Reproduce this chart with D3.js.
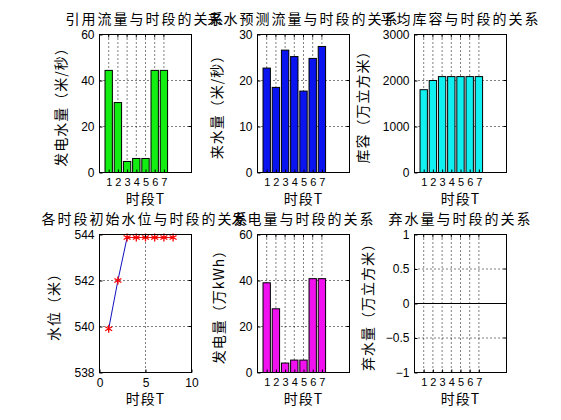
<!DOCTYPE html>
<html>
<head>
<meta charset="utf-8">
<script src="https://cdn.jsdelivr.net/npm/d3@7.9.0/dist/d3.min.js"></script>
<style>
  html, body { margin: 0; padding: 0; background: #fff; }
  svg { display: block; }
  .tick-label { font-family: "Liberation Sans", Arial, sans-serif; font-size: 12px; fill: #000; }
  .cjk { font-family: "Noto Sans CJK SC", sans-serif; fill: #000; }
</style>
</head>
<body>
<svg id="fig" width="561" height="420"></svg>
<script>
// data
const periods = [1, 2, 3, 4, 5, 6, 7];
const genFlow = [44.4, 30.4, 4.8, 6.1, 6.1, 44.4, 44.4];
const inflow = [22.7, 18.5, 26.6, 25.2, 17.7, 24.8, 27.4];
const storage = [1800, 2000, 2085, 2085, 2085, 2085, 2085];
const levelT = [1, 2, 3, 4, 5, 6, 7, 8];
const level = [539.9, 542.0, 543.87, 543.87, 543.87, 543.87, 543.87, 543.87];
const energy = [39.0, 27.7, 4.1, 5.4, 5.4, 40.8, 40.8];
const spill = [0, 0, 0, 0, 0, 0, 0];

const titles = ['引用流量与时段的关系', '来水预测流量与时段的关系', '平均库容与时段的关系',
                '各时段初始水位与时段的关系', '发电量与时段的关系', '弃水量与时段的关系'];
const yLabels = ['发电水量（米/秒）', '来水量（米/秒）', '库容（万立方米）',
                 '水位（米）', '发电量（万kWh）', '弃水量（万立方米）'];
const xLabel = '时段T';

const svg = d3.select('#fig');
const colLeft = [99.5, 257.5, 414.5];
const rowTop = [34.5, 234.5];
const W = 92, H = 138;

function panel(i, xDomain, xTicks, yDomain, yTicks, yFmt, ylabOffset, xTickSize) {
  const left = colLeft[i % 3], top = rowTop[Math.floor(i / 3)];
  const g = svg.append('g').attr('transform', `translate(${left},${top})`);
  const x = d3.scaleLinear().domain(xDomain).range([0, W]);
  const y = d3.scaleLinear().domain(yDomain).range([H, 0]);

  // dotted grid
  const grid = g.append('g').attr('stroke', '#000').attr('stroke-dasharray', '1,3');
  xTicks.filter(t => t > xDomain[0] && t < xDomain[1]).forEach(t => {
    grid.append('line').attr('x1', x(t)).attr('x2', x(t)).attr('y1', 0).attr('y2', H);
  });
  yTicks.filter(t => t > yDomain[0] && t < yDomain[1]).forEach(t => {
    grid.append('line').attr('x1', 0).attr('x2', W).attr('y1', y(t)).attr('y2', y(t));
  });

  const marks = g.append('g');

  // axes: bottom + left with labels, ticks inward
  const xAxis = d3.axisBottom(x).tickValues(xTicks).tickSize(-3).tickPadding(6).tickFormat(d3.format('d'));
  const yAxis = d3.axisLeft(y).tickValues(yTicks).tickSize(-3).tickPadding(5).tickFormat(yFmt);
  const ax = g.append('g').attr('transform', `translate(0,${H})`).call(xAxis);
  const ay = g.append('g').call(yAxis);
  [ax, ay].forEach(a => {
    a.select('.domain').remove();
    a.selectAll('text').attr('class', 'tick-label').attr('fill', '#000');
    a.selectAll('line').attr('stroke', '#000');
  });
  ax.selectAll('text').style('font-size', xTickSize + 'px');
  // ticks on top and right too
  xTicks.forEach(t => g.append('line').attr('x1', x(t)).attr('x2', x(t)).attr('y1', 0).attr('y2', 3).attr('stroke', '#000'));
  yTicks.forEach(t => g.append('line').attr('x1', W).attr('x2', W - 3).attr('y1', y(t)).attr('y2', y(t)).attr('stroke', '#000'));

  g.append('rect').attr('width', W).attr('height', H)
    .attr('fill', 'none').attr('stroke', '#000').attr('stroke-width', 1);

  g.append('text').attr('class', 'cjk')
    .attr('x', W / 2).attr('y', -11).attr('text-anchor', 'middle')
    .style('font-size', '14px').style('letter-spacing', '2px')
    .text(titles[i]);
  g.append('text').attr('class', 'cjk')
    .attr('x', W / 2).attr('y', H + 31).attr('text-anchor', 'middle')
    .style('font-size', '14px').style('letter-spacing', '1px')
    .text(xLabel);
  g.append('text').attr('class', 'cjk')
    .attr('transform', `translate(${-ylabOffset},${H / 2}) rotate(-90)`)
    .attr('text-anchor', 'middle')
    .style('font-size', '14px').style('letter-spacing', '1px')
    .text(yLabels[i]);

  return { g, marks, x, y };
}

function bars(p, values, color) {
  const bw = p.x(0.8) - p.x(0);
  p.marks.selectAll('rect').data(values).join('rect')
    .attr('x', (d, k) => p.x(periods[k]) - bw / 2)
    .attr('y', d => p.y(Math.max(0, d)))
    .attr('width', bw)
    .attr('height', d => Math.abs(p.y(d) - p.y(0)))
    .attr('fill', color).attr('stroke', '#000').attr('stroke-width', 1);
  // baseline
  p.marks.append('line').attr('x1', 0).attr('x2', W)
    .attr('y1', p.y(0)).attr('y2', p.y(0)).attr('stroke', '#000').attr('stroke-width', 1.2);
}

const fmt = d3.format('d');

const p1 = panel(0, [0, 10], periods, [0, 60], [0, 20, 40, 60], fmt, 34, 11);
bars(p1, genFlow, '#12ee12');

const p2 = panel(1, [0, 10], periods, [0, 30], [0, 10, 20, 30], fmt, 36, 11);
bars(p2, inflow, '#0a14f0');

const p3 = panel(2, [0, 10], periods, [0, 3000], [0, 1000, 2000, 3000], fmt, 47, 11);
bars(p3, storage, '#11f0f0');

const p4 = panel(3, [0, 10], [0, 5, 10], [538, 544], [538, 540, 542, 544], fmt, 41, 12);
{
  const pts = levelT.map((t, k) => [t, level[k]]);
  const line = d3.line().x(d => p4.x(d[0])).y(d => p4.y(d[1]));
  p4.marks.append('path').attr('d', line(pts.slice(0, 3)))
    .attr('fill', 'none').attr('stroke', '#1010c0').attr('stroke-width', 1);
  p4.marks.append('path').attr('d', line(pts.slice(2)))
    .attr('fill', 'none').attr('stroke', '#e01010').attr('stroke-width', 1);
  const star = d3.symbol().type(d3.symbolAsterisk).size(45);
  p4.marks.selectAll('.star').data(pts).join('path').attr('class', 'star')
    .attr('transform', d => `translate(${p4.x(d[0])},${p4.y(d[1])})`)
    .attr('d', star()).attr('fill', 'none').attr('stroke', '#ff0000').attr('stroke-width', 1.3);
}

const p5 = panel(4, [0, 10], periods, [0, 60], [0, 20, 40, 60], fmt, 34, 11);
bars(p5, energy, '#f010f0');

const p6 = panel(5, [0, 10], periods, [-1, 1], [-1, -0.5, 0, 0.5, 1], d3.format('~g'), 42, 11);
bars(p6, spill, '#11f0f0');
</script>
</body>
</html>
